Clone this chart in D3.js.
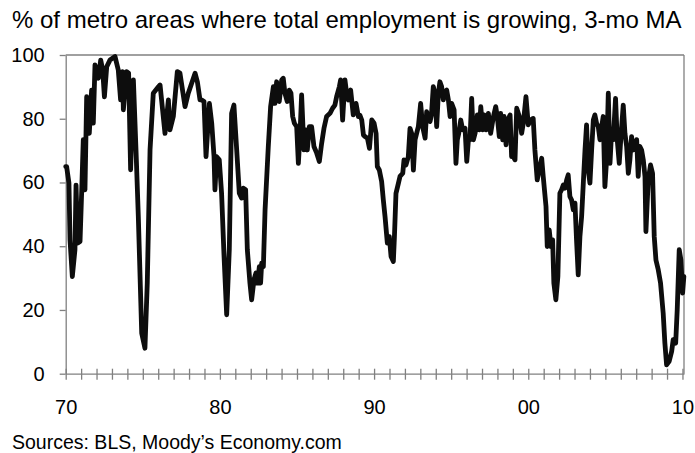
<!DOCTYPE html>
<html>
<head>
<meta charset="utf-8">
<script src="https://cdn.jsdelivr.net/npm/d3@7"></script>
<style>
  body { margin: 0; background: #fff; }
  text { font-family: "Liberation Sans", Arial, sans-serif; fill: #000; }
</style>
</head>
<body>
<svg id="chart" width="695" height="453"></svg>
<script>
// Dates as decimal years.
const dates = [
  1970.00, 1970.06, 1970.21, 1970.28, 1970.43, 1970.60, 1970.67, 1970.78, 1970.93,
  1971.04, 1971.14, 1971.25, 1971.36, 1971.53, 1971.68, 1971.79, 1971.90,
  1972.12, 1972.27, 1972.40, 1972.51, 1972.66, 1972.87,
  1973.20, 1973.41, 1973.56, 1973.69, 1973.74, 1973.95,
  1974.08, 1974.21, 1974.39, 1974.56, 1974.71, 1974.93,
  1975.14, 1975.29, 1975.47, 1975.68,
  1976.01, 1976.12, 1976.44, 1976.66, 1976.76, 1976.98,
  1977.24, 1977.41, 1977.74, 1977.95,
  1978.39, 1978.54, 1978.71, 1978.82, 1978.97,
  1979.10, 1979.32, 1979.47, 1979.62, 1979.68, 1979.79, 1979.96,
  1980.11, 1980.27, 1980.44, 1980.61, 1980.76, 1980.91,
  1981.09, 1981.26, 1981.41, 1981.52, 1981.67, 1981.78, 1981.95,
  1982.06, 1982.21, 1982.34, 1982.43, 1982.56, 1982.64, 1982.71, 1982.82, 1982.93,
  1983.14, 1983.29, 1983.47, 1983.57, 1983.68, 1983.85,
  1984.01, 1984.11, 1984.22, 1984.37, 1984.50, 1984.61, 1984.72, 1984.83, 1984.98,
  1985.09, 1985.19, 1985.30, 1985.45, 1985.58, 1985.67, 1985.80, 1985.95,
  1986.10, 1986.28, 1986.45, 1986.60, 1986.75, 1986.92,
  1987.14, 1987.31, 1987.46, 1987.57, 1987.75, 1987.83, 1987.96,
  1988.11, 1988.22, 1988.33, 1988.48, 1988.65, 1988.83, 1988.98,
  1989.09, 1989.20, 1989.31, 1989.41, 1989.57, 1989.70, 1989.85,
  1990.00, 1990.13, 1990.21, 1990.34, 1990.49, 1990.60, 1990.71, 1990.86, 1990.99,
  1991.10, 1991.25, 1991.32, 1991.42, 1991.58, 1991.68, 1991.86, 1991.94,
  1992.07, 1992.22, 1992.33, 1992.44, 1992.55, 1992.66, 1992.76, 1992.87,
  1993.02, 1993.15, 1993.31, 1993.41, 1993.52, 1993.63, 1993.72, 1993.84, 1993.95,
  1994.06, 1994.17, 1994.27, 1994.38, 1994.49, 1994.60, 1994.71, 1994.82, 1994.93,
  1995.03, 1995.19, 1995.31, 1995.40, 1995.49, 1995.62, 1995.75, 1995.90,
  1996.01, 1996.12, 1996.22, 1996.33, 1996.44, 1996.55, 1996.70, 1996.83, 1996.92,
  1997.05, 1997.13, 1997.26, 1997.41, 1997.56, 1997.74, 1997.89, 1997.99,
  1998.12, 1998.21, 1998.34, 1998.43, 1998.56, 1998.67, 1998.82, 1998.92,
  1999.03, 1999.14, 1999.25, 1999.42, 1999.57, 1999.68, 1999.85,
  2000.00, 2000.15, 2000.32, 2000.43, 2000.58, 2000.71, 2000.87, 2000.97,
  2001.15, 2001.23, 2001.36, 2001.47, 2001.58, 2001.66, 2001.79, 2001.92,
  2002.05, 2002.16, 2002.27, 2002.38, 2002.49, 2002.59, 2002.70, 2002.81, 2002.92,
  2003.03, 2003.13, 2003.24, 2003.35, 2003.46, 2003.57, 2003.68, 2003.78, 2003.89,
  2004.00, 2004.11, 2004.22, 2004.32, 2004.43, 2004.54, 2004.65, 2004.76, 2004.86, 2004.97,
  2005.08, 2005.19, 2005.30, 2005.40, 2005.51, 2005.66, 2005.77, 2005.90,
  2006.01, 2006.16, 2006.27, 2006.38, 2006.49, 2006.59, 2006.70, 2006.81, 2006.92,
  2007.03, 2007.13, 2007.24, 2007.35, 2007.46, 2007.57, 2007.63, 2007.78, 2007.93,
  2008.06, 2008.17, 2008.28, 2008.43, 2008.58, 2008.75, 2008.86, 2008.97,
  2009.14, 2009.30, 2009.40, 2009.56, 2009.66, 2009.79, 2009.90,
  2010.01, 2010.09
];

// % of metro areas where total employment is growing (3-mo MA).
const pct = [
  65, 65, 59.8, 42, 30.5, 38.9, 59.2, 41, 41.5,
  57.7, 73.4, 57.7, 86.9, 75.4, 89, 78.6, 96.9,
  92.7, 98.4, 95.3, 86.9, 96.3, 98.4,
  99.5, 95.3, 85.9, 94.8, 82.8, 94.8,
  94.3, 64, 92.2, 70.2, 49.3, 12.7,
  8, 28.4, 70.2, 88,
  90, 90.6, 75.4, 85.9, 76.5, 80.7,
  94.8, 94.3, 83.8, 88,
  94.3, 91.6, 85.9, 85.9, 85.4,
  68.1, 84.8, 78.6, 68.1, 57.7, 68.1, 67.1,
  56.6, 36.8, 18.5, 38.9, 81.7, 84.3,
  70.2, 56.6, 55.1, 58.2, 57.7, 38.9, 28.4,
  23.2, 29.5, 31.6, 28.4, 33.6, 28.4, 34.7, 33.6, 51.4,
  71.3, 83.8, 90.1, 84.8, 91.6, 85.4,
  92.2, 92.7, 88, 85.4, 89, 88, 80.7, 78.6, 77.5,
  66, 74.4, 87.5, 70.2, 76.5, 70.2, 77.5, 77.5,
  71.3, 69.2, 66.6, 72.3, 77, 80.7,
  81.7, 83.3, 84.3, 86.9, 90.1, 92.2, 79.6,
  92.2, 88, 85.9, 89, 81.2, 84.8, 80.7,
  81, 79.6, 74.9, 74.4, 73.9, 70.7, 79.6,
  78.6, 75.4, 65, 63.9, 60.3, 54.5, 49.3, 41, 43,
  36.8, 35.2, 43, 56.6, 59.8, 61.9, 62.9, 67.1,
  65.5, 68.1, 77, 75.4, 63.9, 73.4, 75.4, 77.5,
  84.8, 77.5, 73.9, 82.2, 80.7, 79.1, 81.2, 90.1, 88,
  77.5, 88, 91.6, 90.1, 85.9, 88.5, 89, 85.9, 80.7,
  84.8, 82.8, 66, 73.4, 75.4, 79.6, 76.5, 77,
  66.6, 73.4, 73.4, 86.4, 73.4, 75.4, 81.2, 76.5, 83.8,
  76.5, 81.2, 76.5, 81.7, 75.4, 80.7, 83.8, 80.7,
  74.4, 81.7, 73.4, 80.7, 71.8, 79.6, 81.2, 68.1,
  68.1, 67.1, 83.3, 80.7, 75.4, 78.6, 86.9,
  78.1, 79.6, 80.1, 70.2, 60.8, 64, 67.6, 61.9,
  52.5, 39.9, 45.1, 39.9, 42, 28.4, 23.2, 30.5,
  56.6, 57.7, 59.2, 58.2, 60.8, 62.4, 55.6, 54.5, 51.4,
  53.5, 42, 31, 43, 49.3, 59.8, 70.2, 78.1, 64,
  59.8, 70.2, 79.6, 81.2, 78.6, 77.5, 73.4, 77.5, 80.7, 58.7,
  67.1, 88, 66, 75.4, 73.4, 86.4, 73.4, 66,
  74.4, 84.3, 75.4, 71.3, 62.9, 67.1, 74.4, 70.2, 72.3,
  73.4, 61.9, 71.3, 70.2, 67.1, 61.9, 44.6, 60.8, 65.5,
  62.9, 43, 35.7, 32.6, 28.4, 19, 9.6, 2.8,
  3.9, 7, 10.7, 9.6, 20, 38.9, 35.7,
  25.3, 30.5
];

const yTicks = [0, 20, 40, 60, 80, 100];
const xTicks = d3.range(1970, 2011);
const xLabelYears = [1970, 1980, 1990, 2000, 2010];

const title = "% of metro areas where total employment is growing, 3-mo MA";
const source = "Sources: BLS, Moody\u2019s Economy.com";

const svg = d3.select("#chart");
const margin = { top: 55, left: 65.7, right: 684, bottom: 373.7 };
const axisColor = "#808080";

const x = d3.scaleLinear()
  .domain([1970, 2010.1])
  .range([margin.left, margin.right]);
const y = d3.scaleLinear()
  .domain([0, 100])
  .range([margin.bottom, margin.top]);

// Title and source note.
svg.append("text")
  .attr("x", 12)
  .attr("y", 28)
  .attr("font-size", "24px")
  .text(title);
svg.append("text")
  .attr("x", 12)
  .attr("y", 449)
  .attr("font-size", "19.5px")
  .text(source);

// Frame lines on top and right.
svg.append("line")
  .attr("x1", margin.left).attr("x2", margin.right)
  .attr("y1", margin.top).attr("y2", margin.top)
  .attr("stroke", axisColor).attr("stroke-width", 1.3);
svg.append("line")
  .attr("x1", margin.right).attr("x2", margin.right)
  .attr("y1", margin.top).attr("y2", margin.bottom)
  .attr("stroke", axisColor).attr("stroke-width", 1.3);

// Y axis.
const yAxis = svg.append("g")
  .attr("transform", `translate(${margin.left},0)`)
  .call(d3.axisLeft(y).tickValues(yTicks).tickSize(6).tickPadding(15).tickSizeOuter(0));
yAxis.select(".domain").attr("stroke", axisColor).attr("stroke-width", 1.3);
yAxis.selectAll(".tick line").attr("stroke", axisColor).attr("stroke-width", 1.3);
yAxis.selectAll(".tick text")
  .attr("font-size", "20px")
  .attr("font-family", "Liberation Sans, Arial, sans-serif")
  .attr("fill", "#000");

// X axis, yearly ticks crossing the axis line, labels every decade.
const xAxis = svg.append("g")
  .attr("transform", `translate(0,${margin.bottom})`)
  .call(d3.axisBottom(x)
    .tickValues(xTicks)
    .tickSize(6)
    .tickSizeOuter(0)
    .tickFormat(d => xLabelYears.includes(d) ? d3.format("02")(d % 100) : ""));
xAxis.select(".domain").attr("stroke", axisColor).attr("stroke-width", 1.3);
xAxis.selectAll(".tick line")
  .attr("y1", -5).attr("y2", 6)
  .attr("stroke", axisColor).attr("stroke-width", 1.3);
xAxis.selectAll(".tick text")
  .attr("y", 26)
  .attr("font-size", "20px")
  .attr("font-family", "Liberation Sans, Arial, sans-serif")
  .attr("fill", "#000");

// The series line.
const line = d3.line()
  .x((d, i) => x(dates[i]))
  .y(d => y(d));
svg.append("path")
  .datum(pct)
  .attr("fill", "none")
  .attr("stroke", "#0d0d0d")
  .attr("stroke-width", 4.8)
  .attr("stroke-linejoin", "round")
  .attr("stroke-linecap", "round")
  .attr("d", line);
</script>
</body>
</html>
